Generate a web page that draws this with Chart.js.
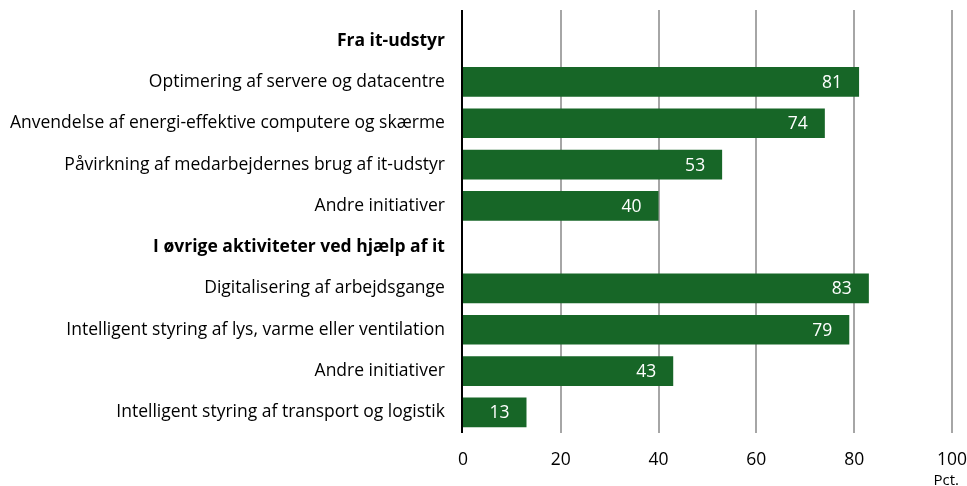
<!DOCTYPE html>
<html>
<head>
<meta charset="utf-8">
<script src="https://cdn.jsdelivr.net/npm/chart.js@4"></script>
<style>
  html, body { margin: 0; padding: 0; background: #fff; }
  #wrap { width: 967px; height: 486px; }
</style>
</head>
<body>
<div id="wrap"><canvas id="bars"></canvas></div>
<script>
const labels = [
  'Fra it-udstyr',
  'Optimering af servere og datacentre',
  'Anvendelse af energi-effektive computere og skærme',
  'Påvirkning af medarbejdernes brug af it-udstyr',
  'Andre initiativer',
  'I øvrige aktiviteter ved hjælp af it',
  'Digitalisering af arbejdsgange',
  'Intelligent styring af lys, varme eller ventilation',
  'Andre initiativer',
  'Intelligent styring af transport og logistik'
];
const headers = [0, 5];
const values = [null, 81, 74, 53, 40, null, 83, 79, 43, 13];
const xTicks = [0, 20, 40, 60, 80, 100];
const unit = 'Pct.';

const FONT = '"Open Sans", sans-serif';
const green = '#176627';

// grid lines and 0-axis drawn a bit above the plot area, like the original
const gridPlugin = {
  id: 'grid',
  beforeDatasetsDraw(chart) {
    const ctx = chart.ctx, x = chart.scales.x, area = chart.chartArea;
    const top = 10;
    ctx.save();
    ctx.lineWidth = 2;
    ctx.strokeStyle = '#a6a6a6';
    xTicks.forEach(v => {
      if (v === 0) return;
      const px = Math.round(x.getPixelForValue(v));
      ctx.beginPath();
      ctx.moveTo(px, top);
      ctx.lineTo(px, area.bottom);
      ctx.stroke();
    });
    ctx.restore();
  },
  afterDatasetsDraw(chart) {
    const ctx = chart.ctx, x = chart.scales.x, area = chart.chartArea;
    ctx.save();
    ctx.lineWidth = 2;
    ctx.strokeStyle = '#000';
    const px = Math.round(x.getPixelForValue(0)) - 1;
    ctx.beginPath();
    ctx.moveTo(px, 10);
    ctx.lineTo(px, area.bottom);
    ctx.stroke();

    // value labels inside bars
    const meta = chart.getDatasetMeta(0);
    ctx.fillStyle = '#fff';
    ctx.font = '17.5px ' + FONT;
    ctx.textAlign = 'right';
    ctx.textBaseline = 'middle';
    meta.data.forEach((el, i) => {
      if (values[i] == null) return;
      ctx.fillText(String(values[i]), el.x - 17, el.y + 1);
    });

    // unit under the last tick
    ctx.fillStyle = '#000';
    ctx.font = '15px ' + FONT;
    ctx.fillText(unit, x.getPixelForValue(100) + 7, area.bottom + 48);
    ctx.restore();
  }
};

new Chart(document.getElementById('bars'), {
  type: 'bar',
  data: {
    labels: labels,
    datasets: [{
      data: values,
      backgroundColor: green,
      barPercentage: 0.72,
      categoryPercentage: 1
    }]
  },
  options: {
    indexAxis: 'y',
    responsive: true,
    maintainAspectRatio: false,
    animation: false,
    layout: { padding: { top: 20, right: 15, left: -8, bottom: -2 } },
    plugins: { legend: { display: false }, tooltip: { enabled: false } },
    scales: {
      x: {
        min: 0,
        max: 100,
        afterBuildTicks: axis => { axis.ticks = xTicks.map(v => ({ value: v })); },
        afterFit: s => { s.paddingRight = 0; s.paddingLeft = 0; },
        grid: { display: false, drawTicks: false },
        border: { display: false },
        ticks: { color: '#000', font: { family: FONT, size: 17.5 }, padding: 17 }
      },
      y: {
        afterFit: s => { s.paddingTop = 0; s.paddingBottom = 0; },
        grid: { display: false, drawTicks: false },
        border: { display: false },
        ticks: {
          color: '#000',
          padding: 18,
          autoSkip: false,
          font: ctx => ({
            family: FONT,
            size: 17.5,
            weight: headers.includes(ctx.index) ? 'bold' : 'normal'
          })
        }
      }
    }
  },
  plugins: [gridPlugin]
});
</script>
</body>
</html>
